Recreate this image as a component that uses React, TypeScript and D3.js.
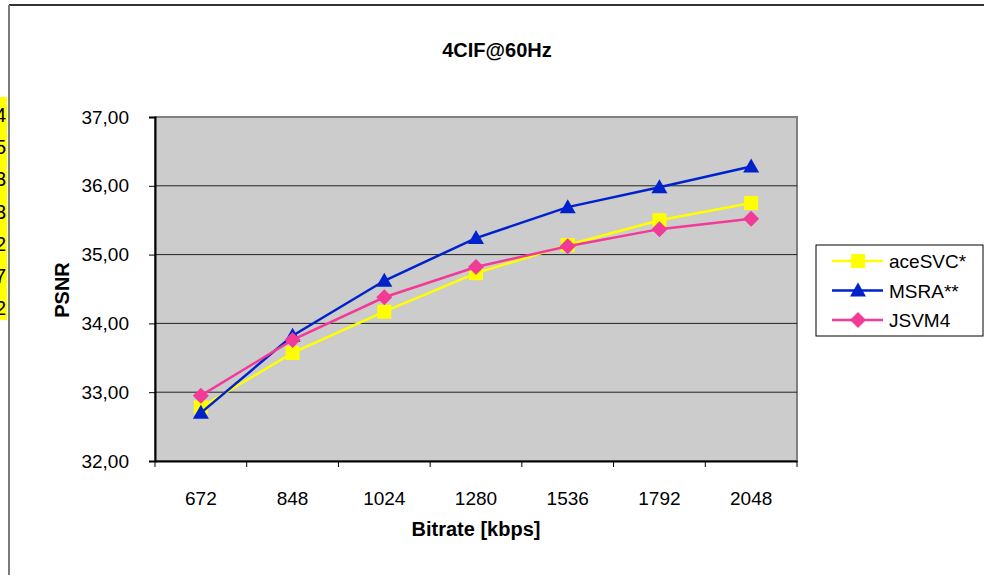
import React, { useEffect, useRef } from "react";
import * as d3 from "d3";

const categories = ["672", "848", "1024", "1280", "1536", "1792", "2048"];
const aceSVC = [32.78, 33.57, 34.17, 34.73, 35.14, 35.5, 35.75];
const msra = [32.7, 33.82, 34.62, 35.24, 35.69, 35.98, 36.28];
const jsvm4 = [32.95, 33.76, 34.38, 34.82, 35.12, 35.37, 35.52];
const yTicks = [32, 33, 34, 35, 36, 37];
// the cut-off digits on the yellow strip at the left edge
const stripDigits = ["4", "5", "3", "3", "2", "7", "2"];

const series = [
  { name: "aceSVC*", values: aceSVC, color: "#ffff00", marker: "square" },
  { name: "MSRA**", values: msra, color: "#0022cc", marker: "triangle" },
  { name: "JSVM4", values: jsvm4, color: "#f23a97", marker: "diamond" },
];

const font = "Arial, 'Liberation Sans', sans-serif";

function drawMarker(g: any, type: string, x: number, y: number, color: string) {
  if (type === "square") {
    g.append("rect").attr("x", x - 7).attr("y", y - 7).attr("width", 14).attr("height", 14).attr("fill", color);
  } else if (type === "triangle") {
    g.append("path")
      .attr("d", `M${x},${y - 8} L${x + 8},${y + 6} L${x - 8},${y + 6} Z`)
      .attr("fill", color);
  } else {
    g.append("path")
      .attr("d", `M${x},${y - 8} L${x + 8},${y} L${x},${y + 8} L${x - 8},${y} Z`)
      .attr("fill", color);
  }
}

export default function App() {
  const ref = useRef<SVGSVGElement>(null);

  useEffect(() => {
    const width = 984;
    const height = 575;
    const plot = { left: 155, right: 797, top: 117, bottom: 461 };

    const svg = d3.select(ref.current).attr("width", width).attr("height", height);
    svg.selectAll("*").remove();

    svg.append("rect").attr("width", width).attr("height", height).attr("fill", "#ffffff");

    // yellow strip on the far left, digits cut by the page edge
    svg.append("rect").attr("x", 0).attr("y", 97).attr("width", 7).attr("height", 223).attr("fill", "#ffff00");
    const stripY = d3.scalePoint().domain(stripDigits.map((d, i) => String(i))).range([122, 315]);
    stripDigits.forEach((d, i) => {
      svg.append("text")
        .attr("x", 6).attr("y", stripY(String(i)) as number)
        .attr("text-anchor", "end")
        .style("font-family", font)
        .style("font-size", "20px")
        .attr("fill", "#000")
        .text(d);
    });

    // chart border
    svg.append("line").attr("x1", 9).attr("x2", width).attr("y1", 5).attr("y2", 5)
      .attr("stroke", "#333").attr("stroke-width", 2);
    svg.append("line").attr("x1", 9).attr("x2", 9).attr("y1", 5).attr("y2", height)
      .attr("stroke", "#7a7a7a").attr("stroke-width", 2);

    const xScale = d3.scaleBand().domain(categories).range([plot.left, plot.right]);
    const yScale = d3.scaleLinear().domain([32, 37]).range([plot.bottom, plot.top]);

    svg.append("rect")
      .attr("x", plot.left).attr("y", plot.top)
      .attr("width", plot.right - plot.left).attr("height", plot.bottom - plot.top)
      .attr("fill", "#cccccc").attr("stroke", "#808080").attr("stroke-width", 2);

    // gridlines
    svg.selectAll(".grid").data(yTicks.slice(1, -1))
      .join("line").attr("class", "grid")
      .attr("x1", plot.left).attr("x2", plot.right)
      .attr("y1", d => yScale(d)).attr("y2", d => yScale(d))
      .attr("stroke", "#222").attr("stroke-width", 1);

    const yAxis = d3.axisLeft(yScale).tickValues(yTicks).tickSize(6).tickPadding(20)
      .tickFormat(d => d3.format(".2f")(d as number).replace(".", ","));
    const yG = svg.append("g").attr("transform", `translate(${plot.left},0)`).call(yAxis);
    yG.select(".domain").attr("stroke", "#000").attr("stroke-width", 2);
    yG.selectAll(".tick line").attr("stroke", "#000");
    yG.selectAll(".tick text").style("font-family", font).style("font-size", "19px").attr("fill", "#000");

    const xAxis = d3.axisBottom(xScale).tickSize(0).tickPadding(31);
    const xG = svg.append("g").attr("transform", `translate(0,${plot.bottom})`).call(xAxis);
    xG.select(".domain").attr("stroke", "#000").attr("stroke-width", 2);
    xG.selectAll(".tick text").style("font-family", font).style("font-size", "19px").attr("fill", "#000");
    // tick marks between categories
    svg.selectAll(".xtick").data(categories.concat(["end"]))
      .join("line").attr("class", "xtick")
      .attr("x1", (d, i) => plot.left + i * xScale.bandwidth())
      .attr("x2", (d, i) => plot.left + i * xScale.bandwidth())
      .attr("y1", plot.bottom).attr("y2", plot.bottom + 6)
      .attr("stroke", "#000");

    const cx = (c: string) => (xScale(c) as number) + xScale.bandwidth() / 2;

    series.forEach(s => {
      const line = d3.line<number>().x((d, i) => cx(categories[i])).y(d => yScale(d));
      svg.append("path").datum(s.values).attr("d", line)
        .attr("fill", "none").attr("stroke", s.color).attr("stroke-width", 2.5);
      const mg = svg.append("g");
      s.values.forEach((v, i) => drawMarker(mg, s.marker, cx(categories[i]), yScale(v), s.color));
    });

    // title and axis titles
    svg.append("text").attr("x", 497).attr("y", 57).attr("text-anchor", "middle")
      .style("font-family", font).style("font-size", "20px").style("font-weight", "bold")
      .text("4CIF@60Hz");
    svg.append("text").attr("x", 476).attr("y", 536).attr("text-anchor", "middle")
      .style("font-family", font).style("font-size", "20px").style("font-weight", "bold")
      .text("Bitrate [kbps]");
    svg.append("text").attr("transform", `translate(69,290) rotate(-90)`).attr("text-anchor", "middle")
      .style("font-family", font).style("font-size", "20px").style("font-weight", "bold")
      .text("PSNR");

    // legend
    const lg = svg.append("g");
    lg.append("rect").attr("x", 816).attr("y", 245).attr("width", 167).attr("height", 91)
      .attr("fill", "#fff").attr("stroke", "#000").attr("stroke-width", 1);
    series.forEach((s, i) => {
      const y = 261 + i * 29.5;
      lg.append("line").attr("x1", 832).attr("x2", 883).attr("y1", y).attr("y2", y)
        .attr("stroke", s.color).attr("stroke-width", 2.5);
      drawMarker(lg, s.marker, 858, y, s.color);
      lg.append("text").attr("x", 889).attr("y", y + 7)
        .style("font-family", font).style("font-size", "19px").attr("fill", "#000")
        .text(s.name);
    });
  }, []);

  return (
    <svg ref={ref} style={{ position: "absolute", left: 0, top: 0 }}></svg>
  );
}
